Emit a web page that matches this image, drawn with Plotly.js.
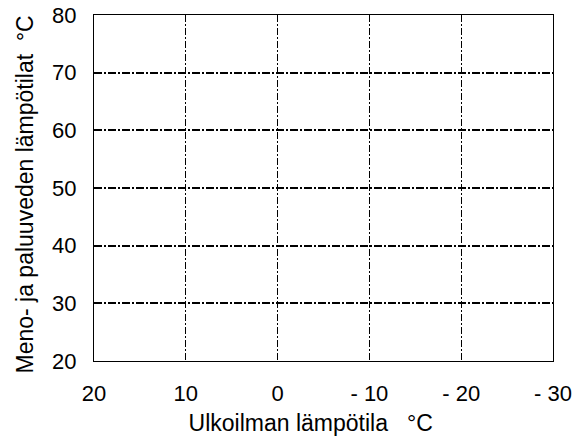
<!DOCTYPE html>
<html>
<head>
<meta charset="utf-8">
<script src="https://cdn.plot.ly/plotly-3.0.1.min.js"></script>
<style>html,body{margin:0;padding:0;background:#fff;}#chart{width:583px;height:436px;}</style>
</head>
<body>
<div id="chart"></div>
<script>
// Axis ranges and ticks (the chart is an empty grid)
const xRange = [20, -30];
const yRange = [20, 80];
const xTickVals = [20, 10, 0, -10, -20, -30];
const xTickText = ["20", "10", "0", "- 10", "- 20", "- 30"];
const yTickVals = [20, 30, 40, 50, 60, 70, 80];
const yTickText = ["20", "30", "40", "50", "60", "70", "80"];
const xTitle = "Ulkoilman lämpötila&nbsp;&nbsp; °C&nbsp;&nbsp;&nbsp;&nbsp;";
const yTitle = "Meno- ja paluuveden lämpötilat&nbsp; °C&nbsp;&nbsp;";

const tickFont = {family: "Liberation Sans, Arial, sans-serif", size: 22, color: "#000"};
const titleFont = {family: "Liberation Sans, Arial, sans-serif", size: 23, color: "#000"};

const traces = [{
  x: xRange, y: yRange, mode: "markers", type: "scatter",
  marker: {opacity: 0}, hoverinfo: "skip", showlegend: false
}];

const layout = {
  width: 583, height: 436,
  margin: {l: 94, r: 30, t: 15, b: 75},
  paper_bgcolor: "#fff", plot_bgcolor: "#fff",
  font: tickFont,
  showlegend: false,
  xaxis: {
    range: xRange, autorange: false,
    tickvals: xTickVals, ticktext: xTickText,
    showgrid: true, gridcolor: "#000", gridwidth: 1, griddash: "7px,2px,2px,2px",
    zeroline: false, showline: true, linecolor: "#000", linewidth: 1, mirror: true,
    ticks: "", ticklabelstandoff: 13,
    tickfont: tickFont,
    title: {text: xTitle, font: titleFont, standoff: 12}
  },
  yaxis: {
    range: yRange, autorange: false,
    tickvals: yTickVals, ticktext: yTickText,
    showgrid: true, gridcolor: "#000", gridwidth: 2, griddash: "8px,2px,2px,2px",
    zeroline: false, showline: true, linecolor: "#000", linewidth: 1, mirror: true,
    ticks: "", ticklabelstandoff: 12,
    tickfont: tickFont,
    title: {text: yTitle, font: titleFont, standoff: 12}
  }
};

Plotly.newPlot("chart", traces, layout, {staticPlot: true, displayModeBar: false});
</script>
</body>
</html>
